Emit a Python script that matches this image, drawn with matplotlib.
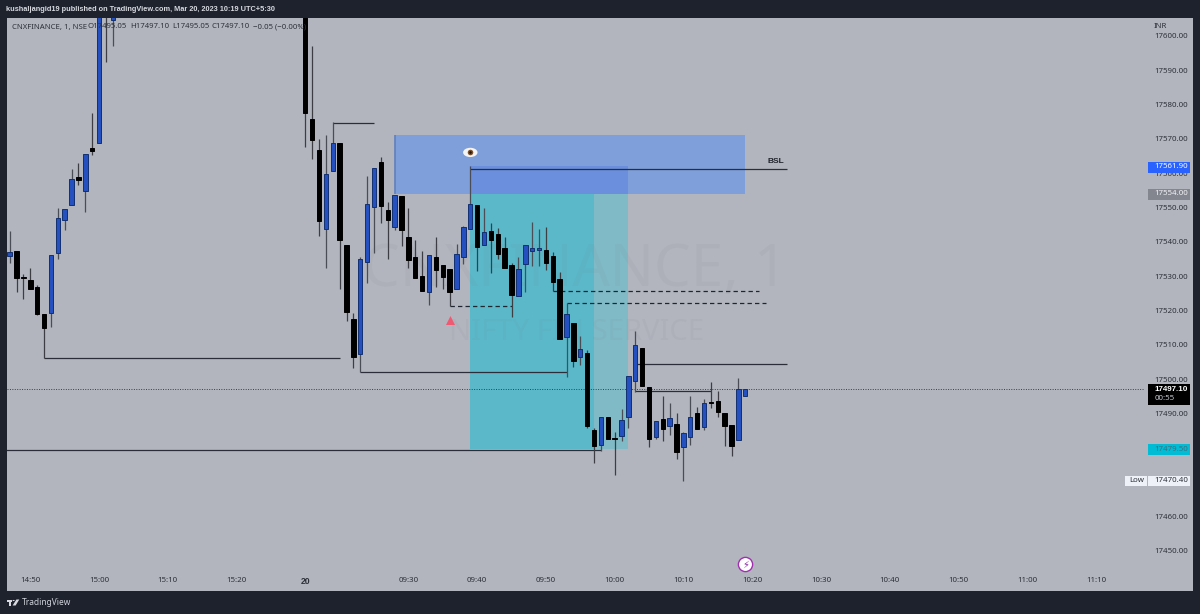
import matplotlib
matplotlib.use("Agg")
import matplotlib.pyplot as plt
from matplotlib.patches import Rectangle, Polygon, Circle, Ellipse

plt.rcParams["font.family"] = ["Noto Sans", "DejaVu Sans"]

W, H = 1200, 614
BG = "#b2b5be"
DARK = "#1e222d"
BLUE = "#2450c0"
BLUE_EDGE = "#12306f"
TICK = "#2e3139"

# bar number 0 is 14:50, the 15:03-15:29 bars are above the visible range
bar_idx = list(range(-3, 13)) + list(range(40, 105))

opens = [17535.9, 17537.3, 17529.8, 17528.8, 17526.8, 17518.9, 17519.1, 17536.8,
         17546.3, 17550.8, 17558.9, 17554.7, 17567.4, 17568.6, 17625.0, 17604.6,
         17625.0, 17575.7, 17566.6, 17543.8, 17560.6, 17568.6, 17539.1, 17517.5,
         17507.3, 17534.2, 17550.2, 17563.3, 17549.2, 17544.4, 17553.3, 17541.5,
         17535.4, 17530.0, 17525.4, 17535.5, 17533.2, 17531.9, 17526.1, 17535.4,
         17543.8, 17550.7, 17539.1, 17543.1, 17542.1, 17538.1, 17533.1, 17524.3,
         17533.6, 17537.4, 17537.6, 17537.6, 17535.8, 17529.2, 17512.2, 17516.4,
         17506.5, 17507.5, 17485.0, 17480.8, 17489.0, 17482.8, 17483.5, 17489.0,
         17499.4, 17508.9, 17497.8, 17483.0, 17488.4, 17486.4, 17486.9, 17480.3,
         17483.0, 17490.0, 17486.1, 17493.4, 17493.6, 17490.2, 17486.5, 17482.2,
         17495.05]
closes = [17537.1, 17529.3, 17529.5, 17526.1, 17518.8, 17514.9, 17536.1, 17546.8,
          17549.4, 17558.4, 17558.1, 17565.6, 17566.5, 17612.0, 17610.0, 17608.0,
          17577.6, 17569.6, 17546.1, 17559.7, 17568.8, 17540.4, 17519.4, 17506.5,
          17535.0, 17551.0, 17561.5, 17550.5, 17546.3, 17553.6, 17543.4, 17534.7,
          17529.5, 17525.7, 17536.0, 17531.7, 17529.7, 17525.2, 17536.3, 17544.2,
          17551.0, 17538.5, 17542.9, 17540.4, 17536.5, 17532.2, 17524.4, 17532.1,
          17539.1, 17538.3, 17538.3, 17533.7, 17528.2, 17511.6, 17518.8, 17505.2,
          17508.8, 17486.3, 17480.5, 17489.0, 17482.4, 17482.5, 17488.2, 17500.9,
          17509.9, 17498.1, 17482.5, 17487.8, 17485.5, 17488.5, 17478.6, 17484.2,
          17489.0, 17485.5, 17492.9, 17493.0, 17490.5, 17486.3, 17480.6, 17497.2,
          17497.1]
highs = [17543.2, 17537.3, 17530.6, 17532.4, 17527.3, 17518.9, 17536.1, 17549.7,
         17549.4, 17561.1, 17562.8, 17565.6, 17577.4, 17612.0, 17628.0, 17610.0,
         17630.0, 17597.0, 17569.9, 17571.1, 17574.8, 17568.6, 17539.1, 17519.1,
         17535.4, 17559.1, 17561.5, 17564.6, 17551.7, 17553.6, 17553.3, 17549.8,
         17540.5, 17537.3, 17536.0, 17541.5, 17533.2, 17531.9, 17539.2, 17544.7,
         17561.9, 17550.7, 17549.7, 17545.3, 17543.9, 17541.5, 17533.7, 17535.6,
         17539.1, 17545.8, 17543.6, 17544.4, 17537.1, 17531.1, 17522.0, 17516.4,
         17512.5, 17508.4, 17485.6, 17489.0, 17489.0, 17484.5, 17491.4, 17500.9,
         17514.1, 17508.9, 17497.8, 17487.8, 17495.1, 17492.9, 17490.2, 17484.7,
         17495.1, 17491.7, 17494.2, 17499.2, 17496.5, 17490.2, 17486.5, 17500.2,
         17497.1]
lows = [17533.7, 17525.2, 17523.2, 17526.1, 17518.5, 17506.1, 17515.2, 17535.0,
        17543.4, 17550.6, 17556.5, 17548.7, 17565.3, 17568.6, 17592.4, 17597.0,
        17567.7, 17564.0, 17541.7, 17532.2, 17560.6, 17526.3, 17516.9, 17503.3,
        17501.9, 17527.9, 17536.6, 17545.3, 17534.9, 17543.4, 17538.7, 17532.2,
        17529.5, 17525.7, 17521.5, 17526.9, 17526.1, 17521.4, 17526.1, 17533.5,
        17543.8, 17531.6, 17539.1, 17530.8, 17534.9, 17532.2, 17518.2, 17524.3,
        17525.4, 17532.9, 17532.9, 17531.8, 17525.6, 17511.6, 17500.5, 17503.4,
        17504.1, 17485.8, 17475.6, 17479.1, 17482.4, 17471.9, 17482.0, 17485.6,
        17496.3, 17498.1, 17480.1, 17482.4, 17482.0, 17483.7, 17476.6, 17470.4,
        17480.8, 17485.5, 17485.0, 17491.6, 17488.8, 17480.5, 17477.7, 17482.2,
        17495.05]

# 17470 and 17480 sit behind the Low and target labels
price_ticks = [17450, 17460, 17490, 17500, 17510, 17520, 17530, 17540, 17550,
               17560, 17570, 17580, 17590, 17600]
time_ticks = [0, 10, 20, 30, 40, 55, 65, 75, 85, 95, 105, 115, 125, 135, 145, 155]
time_labels = ["14:50", "15:00", "15:10", "15:20", "20", "09:30", "09:40", "09:50",
               "10:00", "10:10", "10:20", "10:30", "10:40", "10:50", "11:00", "11:10"]

# x0, x1, price0, price1, colour
zones = [(53, 104, 17554.0, 17571.0, "#7f9fda"),
         (64, 87, 17554.0, 17561.9, "#6b8fdc"),
         (64, 82, 17479.5, 17554.0, "#5ab8c9"),
         (82, 87, 17479.5, 17554.0, "#7fbac6")]

# x0, x1, price
solid_lines = [(2, 45, 17506.1), (44, 50, 17574.7), (64, 110, 17561.1),
               (48, 78, 17502.0), (88, 110, 17504.4), (88, 99, 17496.4),
               (-3.5, 83, 17479.3)]
dashed_lines = [(61, 70, 17521.4), (76, 106, 17525.6), (78, 107, 17522.0)]
last_price = 17497.1


def fx(x):
    return x / W


def fy(y):
    return 1 - y / H


def box(x0, y0, x1, y1, color, zorder=5):
    fig.add_artist(Rectangle((fx(x0), fy(y1)), (x1 - x0) / W, (y1 - y0) / H,
                             transform=fig.transFigure, fc=color, ec="none", zorder=zorder))


def label(x, y, s, color, size=5.6, ha="left", weight="normal", family=None, zorder=6):
    fig.text(fx(x), fy(y), s, color=color, fontsize=size, ha=ha, va="center",
             fontweight=weight, family=family, zorder=zorder)


fig = plt.figure(figsize=(W / 100, H / 100), dpi=100, facecolor=DARK)
box(6.5, 17.5, 1193, 591, BG, zorder=-1)

ax = fig.add_axes([fx(6.5), fy(574), (1145 - 6.5) / W, (574 - 17.5) / H])
ax.patch.set_alpha(0)
ax.set_xlim((6.5 - 30.3) / 6.875, (1145 - 30.3) / 6.875)
ax.set_ylim(17443.2, 17605.3)
for s in ax.spines.values():
    s.set_visible(False)

ax.yaxis.tick_right()
ax.set_yticks(price_ticks, [f"{p:.2f}" for p in price_ticks])
ax.set_xticks(time_ticks, time_labels)
ax.tick_params(axis="y", length=0, pad=6.5, labelsize=5.7, labelcolor=TICK)
ax.tick_params(axis="x", length=0, pad=2.5, labelsize=5.7, labelcolor=TICK)
day_label = ax.get_xticklabels()[4]
day_label.set_fontfamily("Liberation Sans")
day_label.set_fontweight("bold")
day_label.set_fontsize(6.2)

for x0, x1, p0, p1, c in zones:
    ax.add_patch(Rectangle((x0, p0), x1 - x0, p1 - p0, fc=c, ec="none", zorder=1))
ax.vlines(53, 17554.0, 17571.0, color="#5f7fc0", lw=1.2, zorder=1.5)

# watermark
ax.text(79.2, 17531.5, "CNXFINANCE, 1", fontsize=42, color="#787b86", alpha=0.08,
        ha="center", va="center", zorder=2)
ax.text(79.5, 17513.5, "NIFTY FIN SERVICE", fontsize=21, color="#787b86", alpha=0.08,
        ha="center", va="center", zorder=2)

for x0, x1, p in solid_lines:
    ax.hlines(p, x0, x1, color="#2b2e38", lw=0.9, zorder=3)
for x0, x1, p in dashed_lines:
    ax.hlines(p, x0, x1, color="#1f2630", lw=0.9, linestyles=(0, (3.5, 2.5)), zorder=3)
ax.axhline(last_price, color="#3b3e47", lw=0.7, ls=(0, (1, 1.5)), zorder=3)

# candles
up = [c >= o for o, c in zip(opens, closes)]
wick_colors = ["#4a4d55" if u else "#3c3e44" for u in up]
ax.vlines(bar_idx, lows, highs, colors=wick_colors, lw=0.9, zorder=4)
bottoms = [min(o, c) for o, c in zip(opens, closes)]
heights = [abs(c - o) for o, c in zip(opens, closes)]
ax.bar(bar_idx, heights, bottom=bottoms, width=0.64,
       color=[BLUE if u else "black" for u in up],
       edgecolor=[BLUE_EDGE if u else "black" for u in up], linewidth=0.7, zorder=5)

ax.text(109.6, 17563.5, "BSL", fontsize=6.0, fontweight="bold", family="Liberation Sans",
        color="#20232b", ha="right", va="center", zorder=6)
ax.scatter([61], [17517.2], marker="^", s=42, color="#ef5a72", linewidths=0, zorder=6)

# eye drawing
ax.add_patch(Ellipse((64, 17566.0), 2.1, 2.7, fc="#f4f4f4", ec="none", zorder=6))
ax.plot([64], [17566.0], marker="o", ms=4.0, mew=0, color="#7a4f28", zorder=7)
ax.plot([64], [17566.0], marker="o", ms=1.8, mew=0, color="#20140a", zorder=8)

# purple event badge
ax.scatter([104], [17446.0], marker="o", s=105, facecolor="white", edgecolor="#a030b0",
           linewidths=1.0, zorder=6)
ax.text(104, 17446.0, "\u26a1", fontsize=7, color="#8a2aa0", ha="center", va="center",
        family="DejaVu Sans", zorder=7)

# header and footer
label(6.5, 9.5, "kushaljangid19 published on TradingView.com, Mar 20, 2023 10:19 UTC+5:30",
      "#d8dae0", size=5.35, weight="bold", family="Liberation Sans")
label(12, 27, "CNXFINANCE, 1, NSE", TICK)
label(88, 27, "O17495.05", TICK)
label(130, 27, "H17497.10", TICK)
label(172, 27, "L17495.05", TICK)
label(212, 27, "C17497.10", TICK)
label(253, 27, "\u22120.05 (\u22120.00%)", TICK)

box(7, 599.5, 12, 601.5, "#d8dae0")
box(9.3, 599.5, 11.4, 605.5, "#d8dae0")
fig.add_artist(Circle((fx(13.6), fy(600.5)), 1.1 / W, transform=fig.transFigure, fc="#d8dae0", ec="none"))
fig.add_artist(Polygon([(fx(12.6), fy(605.5)), (fx(16.4), fy(599.5)), (fx(19.3), fy(599.5)), (fx(15.6), fy(605.5))],
                       transform=fig.transFigure, fc="#d8dae0", ec="none"))
label(22, 602.5, "TradingView", "#d1d4dc", size=6.0)

# price axis labels
box(1147, 18, 1192.5, 32.5, BG, zorder=5)
label(1154, 26.5, "INR", TICK)
box(1147.5, 161.5, 1190, 172.5, "#2962ff")
label(1154.5, 167, "17561.90", "white", size=5.7)
box(1147.5, 188.5, 1190, 199.5, "#83858f")
label(1154.5, 194, "17554.00", "#f2f3f6", size=5.7)
box(1147.5, 384, 1190, 404.5, "black")
label(1154.5, 389.5, "17497.10", "white", weight="bold", family="Liberation Sans", size=5.8)
label(1154.5, 398.5, "00:55", "#c8cad0", size=5.7)
box(1147.5, 444, 1190, 455, "#00bcd4")
label(1154.5, 449.5, "17479.50", "#3f6f80", size=5.7)
box(1125, 475.5, 1147, 486, "#eef1f8")
box(1147.5, 475.5, 1190, 486, "#eef1f8")
label(1129, 481, "Low", TICK, size=5.7)
label(1154.5, 481, "17470.40", TICK, size=5.7)

fig.savefig("out.png", dpi=100, facecolor=DARK)
